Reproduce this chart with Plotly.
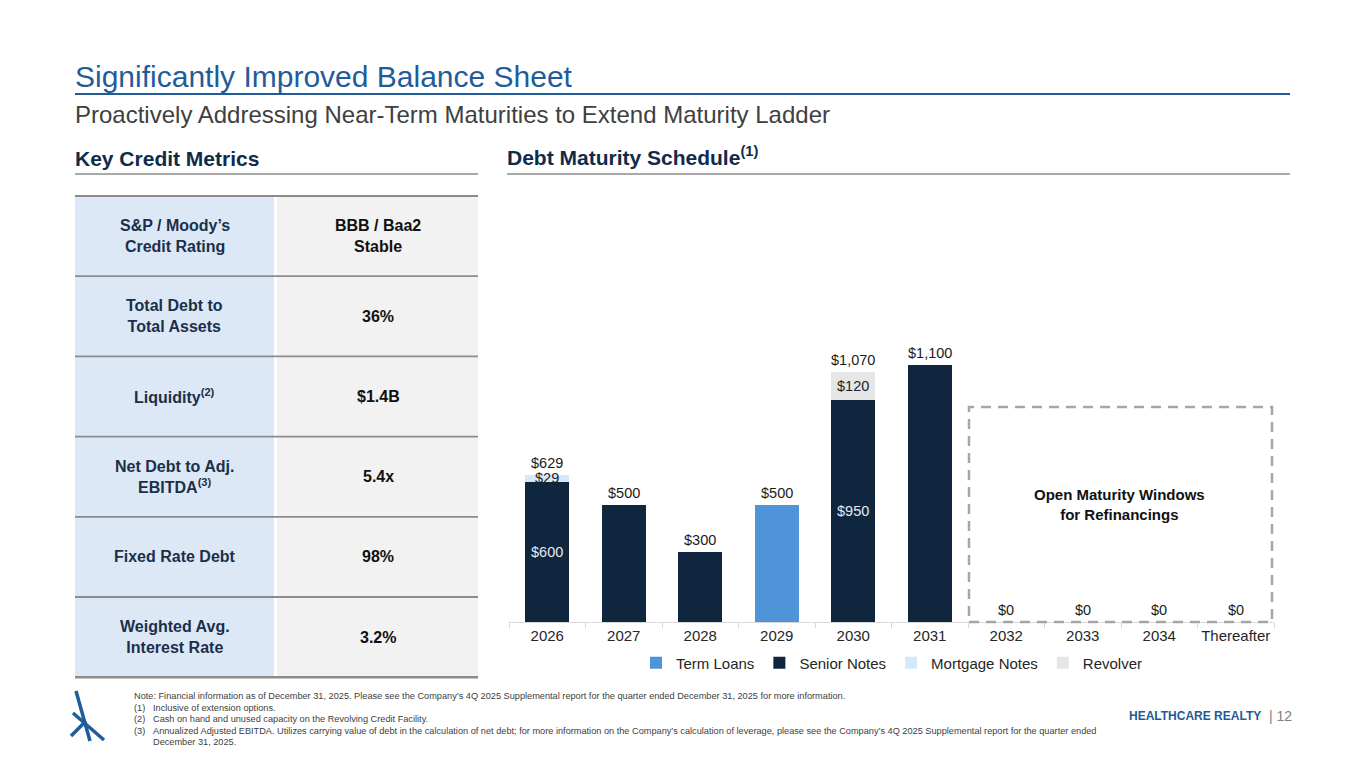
import plotly.graph_objects as go

W, H = 1365, 767
FONT = "Arial, Liberation Sans, sans-serif"

# ---------------- data ----------------
years = ["2026", "2027", "2028", "2029", "2030", "2031", "2032", "2033", "2034", "Thereafter"]
term_loans = [0, 0, 0, 500, 0, 0, 0, 0, 0, 0]
senior_notes = [600, 500, 300, 0, 950, 1100, 0, 0, 0, 0]
mortgage_notes = [29, 0, 0, 0, 0, 0, 0, 0, 0, 0]
revolver = [0, 0, 0, 0, 120, 0, 0, 0, 0, 0]

series_names = ["Term Loans", "Senior Notes", "Mortgage Notes", "Revolver"]
series_values = [term_loans, senior_notes, mortgage_notes, revolver]
series_colors = ["#4F93D8", "#10263F", "#D5E8F7", "#E6E6E6"]
series_text_colors = ["#1A1A1A", "#E4EAF2", "#222222", "#222222"]

metric_labels = ["S&P / Moody’s<br>Credit Rating", "Total Debt to<br>Total Assets",
                 "Liquidity<sup>(2)</sup>", "Net Debt to Adj.<br>EBITDA<sup>(3)</sup>",
                 "Fixed Rate Debt", "Weighted Avg.<br>Interest Rate"]
metric_values = ["BBB / Baa2<br>Stable", "36%", "$1.4B", "5.4x", "98%", "3.2%"]

footnotes = [
    ("", "Note: Financial information as of December 31, 2025. Please see the Company’s 4Q 2025 Supplemental report for the quarter ended December 31, 2025 for more information."),
    ("(1)", "Inclusive of extension options."),
    ("(2)", "Cash on hand and unused capacity on the Revolving Credit Facility."),
    ("(3)", "Annualized Adjusted EBITDA. Utilizes carrying value of debt in the calculation of net debt; for more information on the Company’s calculation of leverage, please see the Company’s 4Q 2025 Supplemental report for the quarter ended"),
    ("", "December 31, 2025."),
]


def px(x):
    return x / W


def py(y):
    return 1 - y / H


def pann(x, y, text, size, color, xanchor="left", yanchor="middle"):
    return dict(x=px(x), y=py(y), xref="paper", yref="paper", text=text, showarrow=False,
                xanchor=xanchor, yanchor=yanchor,
                font=dict(family=FONT, size=size, color=color))


fig = go.Figure()

for name, vals, col in zip(series_names, series_values, series_colors):
    fig.add_trace(go.Bar(
        x=years, y=[v if v else None for v in vals], name=name,
        marker=dict(color=col, line=dict(width=0)), hoverinfo="skip",
    ))

annotations = []
shapes = []

# totals above bars (x given as category index)
totals = [sum(s[i] for s in series_values) for i in range(len(years))]
for i, t in enumerate(totals):
    annotations.append(dict(x=i, y=t, xref="x", yref="y", text=f"${t:,}",
                            showarrow=False, xanchor="center", yanchor="bottom", yshift=2,
                            font=dict(family=FONT, size=14.5, color="#1A1A1A")))

# segment labels for stacked bars
for i in range(len(years)):
    nonzero = [k for k in range(len(series_values)) if series_values[k][i]]
    if len(nonzero) < 2:
        continue
    base = 0
    for k in range(len(series_values)):
        v = series_values[k][i]
        if v:
            annotations.append(dict(x=i, y=base + v / 2, xref="x", yref="y",
                                    text=f"${v:,}", showarrow=False,
                                    xanchor="center", yanchor="middle",
                                    font=dict(family=FONT, size=14.5, color=series_text_colors[k])))
            base += v

# dashed box + text
shapes.append(dict(type="rect", xref="paper", yref="paper",
                   x0=px(969), x1=px(1272), y0=py(622), y1=py(407),
                   line=dict(color="#A6A6A6", width=2.5, dash="10px,7px"),
                   fillcolor="rgba(0,0,0,0)"))
annotations.append(pann(1119, 504, "<b>Open Maturity Windows<br>for Refinancings</b>", 15,
                        "#111111", xanchor="center"))

# ---------------- header ----------------
annotations.append(pann(73, 76, "Significantly Improved Balance Sheet", 30, "#1F5C99"))
shapes.append(dict(type="line", xref="paper", yref="paper", x0=px(75), x1=px(1290),
                   y0=py(94), y1=py(94), line=dict(color="#1F5C99", width=2)))
annotations.append(pann(73, 114, "Proactively Addressing Near-Term Maturities to Extend Maturity Ladder",
                        24, "#404040"))
annotations.append(pann(73, 158, "<b>Key Credit Metrics</b>", 21, "#0F2B4C"))
annotations.append(pann(505, 156, "<b>Debt Maturity Schedule<sup>(1)</sup></b>", 21, "#0F2B4C"))
for x0, x1 in [(75, 478), (507, 1290)]:
    shapes.append(dict(type="line", xref="paper", yref="paper", x0=px(x0), x1=px(x1),
                       y0=py(174), y1=py(174), line=dict(color="#8C8C8C", width=1.5)))

# ---------------- table ----------------
top, row_h = 196, 80.2
n = len(metric_labels)
shapes.append(dict(type="rect", xref="paper", yref="paper", x0=px(75), x1=px(274),
                   y0=py(top), y1=py(top + n * row_h), fillcolor="#DCE8F5", line=dict(width=0),
                   layer="below"))
shapes.append(dict(type="rect", xref="paper", yref="paper", x0=px(277), x1=px(478),
                   y0=py(top), y1=py(top + n * row_h), fillcolor="#F2F2F2", line=dict(width=0),
                   layer="below"))
for r in range(n + 1):
    yy = top + r * row_h
    shapes.append(dict(type="line", xref="paper", yref="paper", x0=px(75), x1=px(478),
                       y0=py(yy), y1=py(yy),
                       line=dict(color="#8C8C8C", width=2.5 if r == n else 1.8)))
for r, (lab, val) in enumerate(zip(metric_labels, metric_values)):
    cy = top + (r + 0.5) * row_h
    annotations.append(pann(175, cy, f"<b>{lab}</b>", 16, "#1C2F4A", xanchor="center"))
    annotations.append(pann(378, cy, f"<b>{val}</b>", 16, "#111111", xanchor="center"))

# ---------------- footnotes ----------------
for i, (num, txt) in enumerate(footnotes):
    yy = 696 + i * 11.5
    if num == "" and i == 0:
        annotations.append(pann(132, yy, txt, 9.2, "#404040"))
    else:
        if num:
            annotations.append(pann(132, yy, num, 9.2, "#404040"))
        annotations.append(pann(151, yy, txt, 9.2, "#404040"))

# logo strokes
for (x0, y0, x1, y1) in [(76, 691, 90, 741), (73, 713, 104, 740), (71, 736, 86, 721)]:
    shapes.append(dict(type="line", xref="paper", yref="paper", x0=px(x0), y0=py(y0),
                       x1=px(x1), y1=py(y1), line=dict(color="#1F5C99", width=3.5)))

annotations.append(pann(1263, 716, "<b>HEALTHCARE REALTY</b>", 12, "#1F5A96", xanchor="right"))
annotations.append(pann(1267, 716, "| 12", 14, "#808080"))

fig.update_layout(
    width=W, height=H, autosize=False,
    margin=dict(l=0, r=0, t=0, b=0, pad=0, autoexpand=False),
    paper_bgcolor="white", plot_bgcolor="white",
    barmode="stack", bargap=0.43,
    font=dict(family=FONT, color="#262626"),
    showlegend=True,
    legend=dict(orientation="h", x=px(892), xanchor="center", y=py(663), yanchor="middle",
                font=dict(family=FONT, size=15, color="#262626"), traceorder="normal",
                bgcolor="rgba(0,0,0,0)"),
    xaxis=dict(domain=[px(509), px(1274)], type="category", range=[-0.5, 9.5],
               showline=True, linecolor="#D9D9D9", linewidth=1, automargin=False,
               ticks="outside", tickson="boundaries", ticklen=5, tickcolor="#D9D9D9",
               tickangle=0,
               tickfont=dict(family=FONT, size=15, color="#262626"), showgrid=False,
               fixedrange=True),
    yaxis=dict(domain=[py(622), py(341.7)], range=[0, 1200], visible=False, automargin=False,
               showgrid=False, zeroline=False, fixedrange=True),
    annotations=annotations,
    shapes=shapes,
)

fig.write_html("out.html", config={"displayModeBar": False, "responsive": False},
               post_script="document.body.style.margin='0';document.body.style.overflow='hidden';")
